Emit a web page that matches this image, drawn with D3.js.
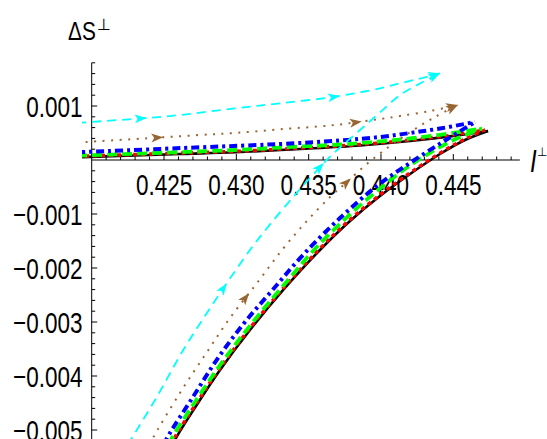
<!DOCTYPE html>
<html>
<head>
<meta charset="utf-8">
<script src="https://cdn.jsdelivr.net/npm/d3@7"></script>
<style>
  body { margin: 0; background: #fff; }
  svg { display: block; font-family: "Liberation Sans", Arial, sans-serif; }
</style>
</head>
<body>
<svg width="547" height="439"></svg>
<script>
// each curve = upper branch (left edge -> cusp) + lower branch (bottom -> cusp), [l, dS]
const cyanUpper = [[0.4190,0.000687],[0.42334,0.000769],[0.42610,0.000833],[0.42991,0.000957],[0.43302,0.001050],
    [0.43682,0.001172],[0.43993,0.001328],[0.44132,0.001420],[0.44270,0.001509],[0.44408,0.001606]];
const cyanLower = [[0.42251,-0.005278],[0.42277,-0.005154],[0.42438,-0.004444],[0.42633,-0.003519],[0.42783,-0.002889],
    [0.42935,-0.002278],[0.43094,-0.001667],[0.43233,-0.001193],[0.43394,-0.000681],[0.43509,-0.000333],[0.43648,0.000061],
    [0.43855,0.000556],[0.43993,0.000880],[0.44132,0.001204],[0.44270,0.001417],[0.44408,0.001606]];

const brownUpper = [[0.4190,0.000324],[0.42451,0.000413],[0.42749,0.000463],[0.42991,0.000500],[0.43302,0.000569],
    [0.43648,0.000639],[0.43820,0.000694],[0.43993,0.000759],[0.44132,0.000815],[0.44339,0.000907],[0.44532,0.001019]];
const brownLower = [[0.42403,-0.005278],[0.42424,-0.005148],[0.42610,-0.004315],[0.42797,-0.003556],[0.42956,-0.002926],
    [0.43143,-0.002278],[0.43316,-0.001667],[0.43475,-0.001167],[0.43648,-0.000685],[0.43765,-0.000407],[0.43910,-0.000056],
    [0.44062,0.000259],[0.44214,0.000537],[0.44373,0.000796],[0.44532,0.001019]];

const blueUpper = [[0.4190,0.000143],[0.42749,0.000235],[0.43302,0.000296],[0.43717,0.000361],[0.43993,0.000426],
    [0.44201,0.000500],[0.44408,0.000583],[0.44650,0.000704]];
const blueLower = [[0.42500,-0.005278],[0.42521,-0.005148],[0.42700,-0.004389],[0.42873,-0.003667],[0.43060,-0.003000],
    [0.43253,-0.002398],[0.43461,-0.001759],[0.43717,-0.001074],[0.43972,-0.000481],[0.44221,-0.000019],[0.44443,0.000361],
    [0.44650,0.000704]];

const greenUpper = [[0.4190,0.000080],[0.42991,0.000185],[0.43302,0.000231],[0.43717,0.000287],[0.43993,0.000343],
    [0.44201,0.000398],[0.44443,0.000481],[0.44698,0.000583]];
const greenLower = [[0.42534,-0.005278],[0.42555,-0.005148],[0.42714,-0.004481],[0.42873,-0.003852],[0.43025,-0.003306],
    [0.43198,-0.002728],[0.43371,-0.002181],[0.43530,-0.001685],[0.43751,-0.001093],[0.43972,-0.000574],[0.44166,-0.000167],
    [0.44353,0.000157],[0.44532,0.000407],[0.44698,0.000583]];

const redUpper = [[0.4190,0.000068],[0.42610,0.000128],[0.42991,0.000160],[0.43440,0.000221],[0.43855,0.000287],
    [0.44201,0.000370],[0.44477,0.000456],[0.44719,0.000556]];
const redLower = [[0.42552,-0.005278],[0.42572,-0.005148],[0.42725,-0.004500],[0.42877,-0.003889],[0.43084,-0.003148],
    [0.43326,-0.002370],[0.43568,-0.001667],[0.43775,-0.001130],[0.43983,-0.000667],[0.44190,-0.000259],[0.44398,0.000111],
    [0.44567,0.000370],[0.44719,0.000556]];

const blackUpper = [[0.4190,0.000050],[0.42610,0.000111],[0.42991,0.000143],[0.43440,0.000204],[0.43855,0.000269],
    [0.44201,0.000352],[0.44477,0.000437],[0.44740,0.000537]];
const blackLower = [[0.42562,-0.005278],[0.42583,-0.005148],[0.42735,-0.004500],[0.42887,-0.003889],[0.43094,-0.003148],
    [0.43336,-0.002370],[0.43578,-0.001667],[0.43786,-0.001130],[0.43993,-0.000667],[0.44201,-0.000259],[0.44408,0.000111],
    [0.44581,0.000370],[0.44740,0.000537]];

const xTicks = [0.425, 0.430, 0.435, 0.440, 0.445];
const xTickLabels = ['0.425', '0.430', '0.435', '0.440', '0.445'];
const yTicks = [0.001, -0.001, -0.002, -0.003, -0.004, -0.005];
const yTickLabels = ['0.001', '\u22120.001', '\u22120.002', '\u22120.003', '\u22120.004', '\u22120.005'];

const svg = d3.select('svg');
const x = d3.scaleLinear().domain([0.42, 0.445]).range([91.7, 453.3]);
const y = d3.scaleLinear().domain([0, -0.005]).range([160, 430]);

svg.append('rect').attr('width', 547).attr('height', 439).attr('fill', '#fff');
svg.append('clipPath').attr('id', 'clip')
    .append('rect').attr('x', 82).attr('y', 0).attr('width', 465).attr('height', 439);

// axes
const axisG = svg.append('g').attr('stroke', '#000').attr('stroke-width', 1);
axisG.append('line').attr('x1', x(0.42)).attr('x2', x(0.4496)).attr('y1', y(0)).attr('y2', y(0));
axisG.append('line').attr('x1', x(0.42)).attr('x2', x(0.42)).attr('y1', y(0.0018)).attr('y2', 439);

const xMinor = d3.range(421, 450).map(d => d / 1000);
axisG.selectAll('.xt').data(xMinor).join('line')
    .attr('x1', d => x(d)).attr('x2', d => x(d))
    .attr('y1', y(0)).attr('y2', d => y(0) - (xTicks.some(t => Math.abs(t - d) < 1e-9) ? 6 : 3.5));

const yMinor = d3.range(-26, 10).map(d => d * 0.0002).filter(d => Math.abs(d) > 1e-9);
axisG.selectAll('.yt').data(yMinor).join('line')
    .attr('y1', d => y(d)).attr('y2', d => y(d))
    .attr('x1', x(0.42)).attr('x2', d => x(0.42) + (yTicks.some(t => Math.abs(t - d) < 1e-9) ? 5.5 : 3.5));

// tick labels (narrow, tall type like the original)
svg.selectAll('.xl').data(xTicks).join('text')
    .attr('transform', d => `translate(${x(d)},195) scale(0.75,1)`)
    .attr('text-anchor', 'middle').attr('font-size', 30)
    .text((d, i) => xTickLabels[i]);

svg.selectAll('.yl').data(yTicks).join('text')
    .attr('transform', d => `translate(82.5,${y(d) + 11}) scale(0.75,1)`)
    .attr('text-anchor', 'end').attr('font-size', 30)
    .text((d, i) => yTickLabels[i]);

// axis titles
svg.append('text').attr('transform', 'translate(68,40) scale(0.8,1)').attr('font-size', 26).text('\u0394S');
svg.append('text').attr('x', 97).attr('y', 30).attr('font-size', 16)
    .attr('font-family', 'DejaVu Sans').text('\u22A5');
svg.append('text').attr('transform', 'translate(530,172) scale(0.75,1)').attr('font-size', 32)
    .attr('font-style', 'italic').text('I');
svg.append('text').attr('x', 537).attr('y', 156).attr('font-size', 12)
    .attr('font-family', 'DejaVu Sans').text('\u22A5');

const series = [
    {up: blackUpper, low: blackLower, color: '#000', width: 2.6, dash: null},
    {up: redUpper, low: redLower, color: '#ff0000', width: 3.4, dash: '4,4'},
    {up: greenUpper, low: greenLower, color: '#00ff00', width: 3.8, dash: '10,5'},
    {up: blueUpper, low: blueLower, color: '#0000ff', width: 4, dash: '8,4,3,4'},
    {up: brownUpper, low: brownLower, color: '#996633', width: 2, dash: '2,6.5',
        upArrows: [0.225, 0.745, 1], lowArrows: [0.39, 0.72, 1]},
    {up: cyanUpper, low: cyanLower, color: '#00ffff', width: 1.8, dash: '9,6',
        upArrows: [0.19, 0.72, 1], lowArrows: [0.385, 0.70, 1]}
];

const line = d3.line().x(d => x(d[0])).y(d => y(d[1])).curve(d3.curveCatmullRom);
const plot = svg.append('g').attr('clip-path', 'url(#clip)');

series.forEach(s => {
    [[s.up, s.upArrows], [s.low, s.lowArrows]].forEach(([pts, arrows]) => {
        const path = plot.append('path')
            .attr('d', line(pts))
            .attr('fill', 'none')
            .attr('stroke', s.color)
            .attr('stroke-width', s.width)
            .attr('stroke-dasharray', s.dash);
        if (!arrows) return;
        const node = path.node();
        const L = node.getTotalLength();
        arrows.forEach(f => {
            const p = node.getPointAtLength(f * L);
            const q = node.getPointAtLength(Math.max(0, f * L - 2));
            const a = Math.atan2(p.y - q.y, p.x - q.x) * 180 / Math.PI;
            plot.append('path')
                .attr('d', 'M0,0L-12,-4.5L-9,0L-12,4.5Z')
                .attr('fill', s.color)
                .attr('transform', `translate(${p.x},${p.y}) rotate(${a})`);
        });
    });
});
</script>
</body>
</html>
